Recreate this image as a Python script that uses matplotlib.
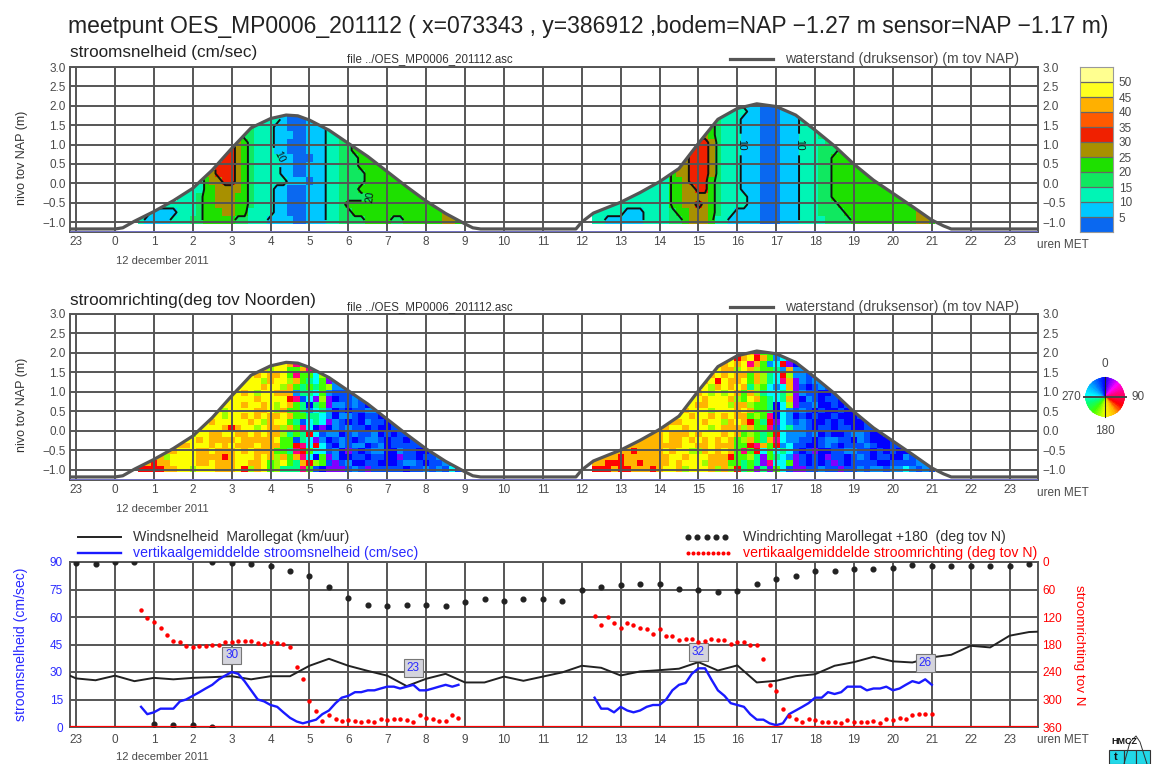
import numpy as np
import matplotlib
matplotlib.use('Agg')
import matplotlib.pyplot as plt
from matplotlib.colors import ListedColormap, BoundaryNorm, LinearSegmentedColormap
from matplotlib.lines import Line2D
from matplotlib.patches import Rectangle, Polygon

plt.rcParams['font.family'] = ['Liberation Sans', 'DejaVu Sans']

W, H = 1152, 764
GRID = '#555555'
TXT = '#4a4a4a'
BLUE = '#2a2aff'
RED = '#ff0000'

hours = list(range(-1, 24))
hour_labels = ['23'] + [str(h) for h in range(24)]
level_ticks = [-1.0, -0.5, 0.0, 0.5, 1.0, 1.5, 2.0, 2.5, 3.0]
level_labels = ['\u22121.0', '\u22120.5', '0.0', '0.5', '1.0', '1.5', '2.0', '2.5', '3.0']

# waterstand (m tov NAP)
water_t = [-1.16, 0, 0.2, 0.5, 1, 1.5, 2, 2.5, 3, 3.5, 4, 4.4, 4.7, 5, 5.5, 6, 6.5, 7, 7.5, 8, 8.5, 9, 9.2, 9.4,
           11.85, 12, 12.3, 13, 13.5, 14, 14.5, 15, 15.5, 16, 16.5, 17, 17.5, 18, 18.5, 19, 19.5, 20, 20.5, 21,
           21.3, 21.5, 23.73]
water_h = [-1.18, -1.18, -1.15, -0.98, -0.73, -0.45, -0.13, 0.34, 0.90, 1.43, 1.67, 1.76, 1.74, 1.63, 1.37, 1.03,
           0.69, 0.30, -0.09, -0.46, -0.78, -1.05, -1.15, -1.18,
           -1.18, -1.0, -0.77, -0.49, -0.24, 0.04, 0.38, 1.03, 1.65, 1.93, 2.05, 1.98, 1.76, 1.37, 0.96, 0.49,
           0.08, -0.26, -0.60, -0.95, -1.10, -1.18, -1.18]

# stroomsnelheid klassen (1 = 0-5 cm/sec, 2 = 5-10, ...), bovenste rij eerst, rijen van 0.2 m
speed_rows_1 = [
    '33333333333 44 444 44 4 333 32 111 222 33 44 55555555555555555',
    '33333333333 44 444 44 4 333 22 111 222 33 44 55555555555555555',
    '33333333333 55 666 64 4 333 22 211 222 33 45 55555555555555555',
    '33333333333 55 677 65 4 333 22 111 222 33 44 55555555555555555',
    '33333333333 55 777 65 4 333 22 111 222 33 44 55555555555555555',
    '33333333333 66 777 65 4 333 32 211 122 33 44 45555555555555555',
    '33333333333 66 777 65 4 333 32 211 222 33 44 45555555555555555',
    '33333333333 66 777 65 4 333 32 211 222 33 44 44555555555555555',
    '33333333333 56 677 65 4 333 33 222 122 33 44 44555555555555555',
    '33333333333 55 666 65 4 333 22 111 222 33 44 45555555555555555',
    '33333333334 55 666 55 4 333 22 111 222 33 44 44455555555555555',
    '33333333334 55 666 55 4 333 22 111 222 33 45 55555555555555555',
    '33322223334 55 566 55 3 333 22 111 222 33 44 55555555555555665',
    '33222233344 55 555 44 3 332 22 211 222 33 44 44555544555555665',
]
speed_rows_2 = [
    '3333333333333 444 555 5 4 333 222 111 222 333 444 555555555555555',
    '3333333333333 444 555 5 4 333 322 111 222 333 444 555555555555555',
    '3333333333333 444 555 5 4 333 222 111 222 333 444 555555555555555',
    '3333333333333 444 566 5 4 333 222 111 222 333 444 555555555555555',
    '3333333333333 455 666 5 4 333 222 111 222 333 444 555555555555555',
    '3333333333333 455 677 6 4 333 222 111 222 333 344 555555555555555',
    '3333333333333 556 777 6 4 333 222 111 222 333 444 555555555555555',
    '3333333333333 556 777 6 4 333 222 111 222 333 445 555555555555555',
    '3333333333333 566 777 6 4 333 222 111 222 333 445 555555555555555',
    '3333333333333 566 777 6 4 333 222 111 222 333 445 555555555555555',
    '3333333333333 556 777 5 4 333 222 111 222 333 445 555555555555555',
    '3333333333333 556 677 5 4 333 222 111 222 333 445 555555555555555',
    '3333333333333 556 666 5 4 333 322 111 222 333 445 555555555555555',
    '3333333333333 556 676 5 4 333 322 111 222 333 444 555555555555555',
    '3333332223333 455 666 5 4 332 222 111 222 333 444 455555555555665',
    '3332222223333 445 666 5 3 322 222 111 222 333 344 445555555555665',
]

# stroomrichting per cel als kleurcode, bovenste rij eerst, rijen van 0.15 m
dir_rows_1 = [
    'YYYYYYYYY YYYYYYYYY AYAAYY AMGGMA LLLBBBBBDBBBBBBBBBBBB',
    'YYYYYYYYY YYYYYYYYY YYAHYY GGAMMC PDBLBBBBBBBBBBBBBBBBB',
    'YYYYYYYYY YYYYYAYYY YAYAAY GMGGCH RDDLLBBBBBBBBBBBBBBBB',
    'YYYYYYYYY YYYAYAAYY YYHAYY HAGTCG PLLLLBBDBBBBBBBBBBBBB',
    'YYYYYYYYY YYYAAYYYY YYAYYH AGTGTG HLLBLLPBBDBBBBBBBBBBB',
    'YYYYYYYYY YYYAAAYYA YHYYAA ALTTCG LBBBPPPDBBBDBBBBBBBBB',
    'YYYYYYYYY YYYAAAYYY YAYYYY RMBCPH PDBBLBPBDBBBBDBBBBBBB',
    'YYYYYYYYY YYAYYYYYA YYAYHY AGTDTG PLLBLBDBBDDBBBBDBBBBB',
    'YYYYYYYYY YYYYYHYYY YAAYHA GGTLCT LDBDBBLLDDBBDBBBBBBBB',
    'YYYYYYYYY YAYYYHYYA YAYAAY AGGTTC LDLLBDBBDBDDDBBBBDBBB',
    'YYYYYYYYY YAYAYYYYY AYHAYY GTBCTC PLBDBDLBBDBBDDBBBBBBB',
    'YYYYYYYYY YYYYYARAY YHYAAH AGMCDP DLBLBBDBDDBBBDBBBBDBB',
    'YYYYYYYYY HYYAAYYAA YAYAAH TGTRCB LLDBLBBLDBDBBDDBBBBBB',
    'YYYYYYHHY YAYAAAAYA AAAAYG GBTCPL DBLBDBLLBDBBDBBBBBBBB',
    'YYYYYYYAA YYYAYAYAA AYAAAG GRMCRC BDLBLLDBLDBBBBBDBBBBB',
    'YYYYYAAYY YAAYAAAYA YAAAGG TMRGCC BLDPBDBLLDDLBBDDBBBBB',
    'YYYAAHYYY YAAAARAYY YAYAHA GAMCDG PLDDBBDBBDDPBBDBBLBBB',
    'AAARAAYYY YAAYAAAYY AAYGHY GTARHG BPBLDDBBDDDBLLBDBBLBB',
    'ARRRRAAYY HYYYAAAYR HAYGHT TTMGBD PPPBLBPBBBBBDBBLBLBCB',
]
dir_rows_2 = [
    'YYYYYYYYYY YYYYYYYYYY YYAYAA MGGCTD DLDPBBBBBBBBBBBBBBBBBB',
    'YYYYYYYYYY YYYYYYYYAY AAYRAY RAGLCL PDDBBBBBBBBBBBBBBBBBBB',
    'YYYYYYYYYY YYYYYYYAYY RAYAYM AGLCRP DLPBBBBBBBBBBBBBBBBBBB',
    'YYYYYYYYYY YYYYYYAAYY YAAHYA HGGTLA LLBBBBBBBBBBBBBBBBBBBB',
    'YYYYYYYYYY YYYYYAYYHA YAYAAG AHTCRH LLBPBBBBBBBBBBBBBBBBBB',
    'YYYYYYYYYY YYYYAYAYAY RYAAYG AHTCMA PLBLLPBBBBDBBBBBBBBBBB',
    'YYYYYYYYYY YYYYYYAYYH AYAYAT HGCLCA PBDBLBPBBBBBBBBBBBBBBB',
    'YYYYYYYYYY YYYYYYYAYH YHYAGA HTCCTH PLBBDDBBBBBBBBBBBBBBBB',
    'YYYYYYYYYY YYYYAYYYAY YYAHGY AGTCTA PDLBDBBDBBBBBBBBBBBBBB',
    'YYYYYYYYYY YYYYAYYAAY YYHAAH GGTDCH PBBLDDBDBPBBBBBBBBBBBB',
    'YYYYYYYYYY YYYAYAYYYH YYYAYA GGTDCL BLBDBDDBDDBBBBBBBBBBBB',
    'YYYYYYYYYY YYYAYYAYYA YAYAAG HGMDCL DBDBDDBDDDBBDBBBBBBBBB',
    'YYYYYYYYYY YYYAAYYYAY YHAYAR GTRPCL BLBDDBDBDDDBBBBBBBBBBB',
    'YYYYYYYYYY YAAYYAYYYH YAAAHA GGMBCT LLBDBBDBBDDBBDBBBBBBBB',
    'YYYYYYYYYY AAYAAAYAYY YAYAGH GTGRCL LLBLDBDDBLLBDDBBBBBBBB',
    'YYYYYYYYAA AAYAAYAYAY AYAGHA GTAMCL LBBDBLLBBDLBDDDBBBBBBB',
    'YYYYYAAAAA AAAAAYYAAY AAAGGR MAGRLC BBDDBLBDBBBLBDDBBDBBBB',
    'YYYAAAARAA AAYAYYHHAY AYAGMG RCGCTC BDBPDDBBLLBBDBDBDDDBBB',
    'YAAAARAAAA AAAYYAYYYA AARGGH TPGTCL PBDBDPBBDBLBDBBDDLBLBB',
    'AAARRRAARA AAAYAYYYHA AAGGTG TPMCCG PBDBDBPBDBBBBDDBBBBLLB',
    'ARRRARRAAA RAYYAHYYYA HAHRTG PTPGCB PPBBLBBPBBLBLLBLLCLBLB',
]
dir_codes = {'D': 0, 'P': 20, 'M': 75, 'R': 120, 'A': 150, 'Y': 180, 'H': 200, 'G': 220,
             'T': 255, 'C': 280, 'L': 320, 'B': 340}

# onderste paneel
wind_t = [-1.15, -1, -0.5, 0, 0.5, 1, 1.5, 2, 2.5, 3, 3.5, 4, 4.5, 5, 5.5, 6, 6.5, 7, 7.5, 8, 8.5, 9, 9.5, 10, 10.5,
          11, 11.5, 12, 12.5, 13, 13.5, 14, 14.5, 15, 15.5, 16, 16.5, 17, 17.5, 18, 18.5, 19, 19.5, 20, 20.5, 21,
          21.5, 22, 22.5, 23, 23.5, 23.73]
wind_speed = [27.9, 26.5, 25.5, 28, 25, 26.8, 26, 26.8, 27.2, 27.7, 26, 27.7, 27.7, 33.4, 37.2, 33.4, 30.6, 28, 22.3,
              26.3, 29, 24.3, 24.3, 27.5, 25.2, 27.5, 29.8, 33.4, 32.3, 28.1, 30.3, 31, 31.8, 35.4, 30.8, 33.6, 24.3,
              25.2, 27.7, 28.8, 33.4, 35.4, 38.3, 35.8, 35.2, 38, 39.4, 44.3, 43.4, 49.8, 51.8, 52]

wind_dir_t = [-1, -0.5, 0, 0.5, 1, 1.5, 2, 2.5, 2.5, 3, 3.5, 4, 4.5, 5, 5.5, 6, 6.5, 7, 7.5, 8, 8.5, 9, 9.5, 10, 10.5,
              11, 11.5, 12, 12.5, 13, 13.5, 14, 14.5, 15, 15.5, 16, 16.5, 17, 17.5, 18, 18.5, 19, 19.5, 20, 20.5, 21,
              21.5, 22, 22.5, 23, 23.5]
wind_dir = [1.5, 3.6, 1, 1, 354, 356, 356, 359, 0, 3, 5, 9, 19, 30, 55, 79, 93, 96, 93, 94, 95, 88, 81, 86, 81,
            81, 84, 61, 54, 50, 49, 47, 58, 62, 65, 63, 48, 36, 31, 19, 20, 15, 16, 12, 7, 9, 8, 9, 9, 9, 5]

mean_t_1 = [0.67, 0.83, 1, 1.17, 1.33, 1.5, 1.67, 1.83, 2, 2.17, 2.33, 2.5, 2.67, 2.83, 3, 3.17, 3.33, 3.5, 3.67, 3.83,
            4, 4.17, 4.33, 4.5, 4.67, 4.83, 5, 5.17, 5.33, 5.5, 5.67, 5.83, 6, 6.17, 6.33, 6.5, 6.67, 6.83, 7, 7.17,
            7.33, 7.5, 7.67, 7.83, 8, 8.17, 8.33, 8.5, 8.67, 8.83]
mean_speed_1 = [11, 7, 8, 10, 10, 10, 14, 15, 17, 19, 21, 23, 26, 28, 30, 29, 25, 20, 15, 14, 12, 11, 8, 5, 3, 2, 3, 4,
                7, 9, 13, 16, 17, 19, 19, 20, 20, 21, 22, 22, 21, 22, 23, 20, 20, 21, 22, 23, 22, 23]
mean_dir_1 = [105, 122, 131, 143, 160, 172, 174, 184, 185, 184, 184, 180, 180, 174, 174, 172, 172, 172, 177, 178, 174,
              176, 179, 186, 228, 255, 304, 326, 347, 334, 343, 347, 345, 347, 349, 346, 350, 343, 345, 343, 343, 345,
              348, 334, 340, 343, 347, 347, 334, 340]

mean_t_2 = [12.33, 12.5, 12.67, 12.83, 13, 13.17, 13.33, 13.5, 13.67, 13.83, 14, 14.17, 14.33, 14.5, 14.67, 14.83, 15,
            15.17, 15.33, 15.5, 15.67, 15.83, 16, 16.17, 16.33, 16.5, 16.67, 16.83, 17, 17.17, 17.33, 17.5, 17.67,
            17.83, 18, 18.17, 18.33, 18.5, 18.67, 18.83, 19, 19.17, 19.33, 19.5, 19.67, 19.83, 20, 20.17, 20.33, 20.5,
            20.67, 20.83, 21]
mean_speed_2 = [16, 10, 10, 8, 11, 9, 8, 9, 11, 12, 12, 15, 20, 23, 24, 29, 32, 32, 26, 20, 17, 13, 12, 11, 7, 4, 4, 2,
                1, 2, 7, 9, 11, 13, 16, 16, 19, 18, 19, 22, 22, 22, 20, 21, 21, 22, 20, 21, 23, 25, 24, 26, 23]
mean_dir_2 = [118, 138, 121, 134, 145, 134, 138, 143, 147, 158, 146, 161, 161, 170, 169, 168, 174, 172, 169, 170, 171,
              178, 174, 174, 180, 180, 211, 269, 281, 321, 337, 342, 348, 342, 345, 348, 348, 349, 351, 345, 349, 348,
              349, 346, 351, 342, 345, 340, 342, 333, 332, 332, 332]

box_t = [3, 7.67, 15, 20.83]
box_v = [39, 32, 41, 35]
box_labels = ['30', '23', '32', '26']

speed_colors = ['#0a68f0', '#00c8ff', '#00f5b5', '#10e860', '#1ee000', '#a89000', '#f02000', '#ff5a00', '#ffb000',
                '#ffff20', '#ffff90']
speed_bounds = [0, 5, 10, 15, 20, 25, 30, 35, 40, 45, 50, 55]
speed_cmap = ListedColormap(speed_colors)
speed_norm = BoundaryNorm(speed_bounds, 11)

dir_anchor = [(0, '#0000ff'), (20, '#8000ff'), (45, '#ff00ff'), (75, '#ff0080'), (120, '#ff0000'), (150, '#ffb400'),
              (180, '#ffff00'), (200, '#a0ff00'), (220, '#40ff00'), (255, '#00ff80'), (280, '#00ffff'),
              (320, '#0090ff'), (340, '#0050ff'), (360, '#0000ff')]
dir_cmap = LinearSegmentedColormap.from_list('richting', [(d / 360, c) for d, c in dir_anchor], N=360)


def px_axes(left, top, right, bottom, **kw):
    return fig.add_axes([left / W, 1 - bottom / H, (right - left) / W, (bottom - top) / H], **kw)


def px_text(x, y, s, **kw):
    kw.setdefault('va', 'center')
    kw.setdefault('color', TXT)
    kw.setdefault('fontsize', 8.5)
    fig.text(x / W, 1 - y / H, s, **kw)


def px_line(x, y, **kw):
    fig.add_artist(Line2D([v / W for v in x], [1 - v / H for v in y], transform=fig.transFigure, **kw))


def style_axes(ax):
    ax.set_xlim(-1.157, 23.73)
    ax.set_xticks(hours)
    ax.set_xticklabels(hour_labels, fontsize=8.5, color=TXT)
    ax.tick_params(length=0, pad=5)
    ax.grid(True, color=GRID, lw=1.4, zorder=3)
    ax.set_axisbelow(False)
    for s in ax.spines.values():
        s.set_color(GRID)
        s.set_linewidth(1.4)


def tide_grid(rows, t0, h0, dh, to_value):
    rows = [r.replace(' ', '') for r in rows][::-1]
    n = max(len(r) for r in rows)
    z = np.array([[to_value(c) for c in r.ljust(n, r[-1])] for r in rows], float)
    tc = t0 + np.arange(n) / 6
    hc = h0 + dh * np.arange(len(rows))
    first = 12.3 if t0 > 12 else 0.6
    wet = np.array([[h - dh / 2 <= np.interp(t, water_t, water_h) and t > first for t in tc] for h in hc])
    te = np.append(tc - 1 / 12, tc[-1] + 1 / 12)
    he = np.append(hc - dh / 2, hc[-1] + dh / 2)
    return tc, hc, te, he, np.ma.masked_where(~wet, z)


def level_panel(top, bottom, title, title_y, legend_y):
    ax = px_axes(70, top, 1038, bottom)
    style_axes(ax)
    ax.set_ylim(-1.258, 3.0)
    ax.set_yticks(level_ticks)
    ax.set_yticklabels(level_labels, fontsize=8.5, color=TXT)
    ax.tick_params(labelright=True, right=False, length=0, pad=3)
    px_text(22, top + 91, 'nivo tov NAP (m)', fontsize=9, color='#333333', rotation=90, ha='center')
    ax.axhline(-1.25, color='#7a7ae6', lw=1.8, zorder=4)
    ax.plot(water_t, water_h, color=GRID, lw=2.3, zorder=5, solid_joinstyle='round')
    px_text(70, title_y, title, fontsize=12.3, color='#222222')
    px_text(347, legend_y, 'file ../OES_MP0006_201112.asc', fontsize=8.3, color='#333333')
    px_line([730, 773], [legend_y, legend_y], color=GRID, lw=2.3)
    px_text(785, legend_y, 'waterstand (druksensor) (m tov NAP)', fontsize=10.2, color=TXT)
    px_text(1037, bottom + 13, 'uren MET')
    px_text(116, bottom + 29, '12 december 2011', fontsize=8)
    return ax


def water_clip(ax):
    return Polygon(list(zip(water_t, water_h)) + [(23.73, -1.3), (-1.16, -1.3)], closed=True, transform=ax.transData)


fig = plt.figure(figsize=(W / 100, H / 100), dpi=100)
px_text(68, 27, 'meetpunt OES_MP0006_201112 ( x=073343 , y=386912 ,bodem=NAP \u22121.27 m sensor=NAP \u22121.17 m)',
        fontsize=16.5, color='#222222')

# paneel 1, stroomsnelheid
ax1 = level_panel(67, 232, 'stroomsnelheid (cm/sec)', 53, 59)
speed_value = lambda c: 5 * int(c) - 2.5
for rows, t0, spots in [(speed_rows_1, 0.5, [(4.3, 0.75), (6.8, -0.55)]),
                        (speed_rows_2, 12.17, [(16.2, 1.0), (17.5, 1.0)])]:
    tc, hc, te, he, z = tide_grid(rows, t0, -0.95, 0.2, speed_value)
    mesh = ax1.pcolormesh(te, he, z, cmap=speed_cmap, norm=speed_norm, zorder=1)
    mesh.set_clip_path(water_clip(ax1))
    cs = ax1.contour(tc, hc, z, levels=[10, 20, 30], colors='#111111', linewidths=1.4, zorder=2)
    ax1.clabel(cs, manual=spots, fmt='%d', fontsize=7.5)
    cs.set_clip_path(water_clip(ax1))

# kleurenbalk
cax = px_axes(1080, 67, 1113, 232)
cax.pcolormesh([0, 1], speed_bounds, np.array(speed_bounds[:-1]).reshape(-1, 1) + 2.5, cmap=speed_cmap, norm=speed_norm)
cax.set_xticks([])
cax.set_ylim(0, 55)
cax.set_yticks(speed_bounds[1:-1])
cax.yaxis.tick_right()
cax.tick_params(length=0, labelsize=8.5, labelcolor=TXT, pad=4)
cax.grid(True, axis='y', color='#666666', lw=0.9)
for s in cax.spines.values():
    s.set_color('#999999')

# paneel 2, stroomrichting
ax2 = level_panel(314, 480, 'stroomrichting(deg tov Noorden)', 300, 307)
dir_value = lambda c: dir_codes[c]
for rows, t0 in [(dir_rows_1, 0.5), (dir_rows_2, 12.17)]:
    tc, hc, te, he, z = tide_grid(rows, t0, -0.975, 0.15, dir_value)
    mesh = ax2.pcolormesh(te, he, z, cmap=dir_cmap, vmin=0, vmax=360, zorder=1)
    mesh.set_clip_path(water_clip(ax2))

# kleurenwiel
wheel = px_axes(1084, 377, 1126, 417, projection='polar')
wheel.set_theta_zero_location('N')
wheel.set_theta_direction(-1)
wheel_deg = np.arange(0, 361, 3)
wheel_r = np.array([0, 1])
wheel.pcolormesh(np.radians(wheel_deg), wheel_r, (wheel_deg[:-1] + 1.5).reshape(1, -1), cmap=dir_cmap, vmin=0, vmax=360)
wheel.set_xticks([])
wheel.set_yticks([])
wheel.spines['polar'].set_visible(False)
px_line([1084, 1126], [397, 397], color='#444444', lw=1.4)
px_line([1105, 1105], [377, 417], color='#222222', lw=0.8)
px_text(1105, 364, '0', ha='center')
px_text(1105, 431, '180', ha='center')
px_text(1071, 397, '270', ha='center')
px_text(1138, 397, '90', ha='center')

# paneel 3, gemiddelden en wind
ax3 = px_axes(70, 562, 1038, 727)
style_axes(ax3)
ax3.set_ylim(0, 90)
ax3.set_yticks([0, 15, 30, 45, 60, 75, 90])
ax3.tick_params(axis='y', labelcolor=BLUE, labelsize=8.5, pad=5)
px_text(21, 644, 'stroomsnelheid (cm/sec)', fontsize=10.1, color=BLUE, rotation=90, ha='center')
ax3.plot(wind_t, wind_speed, color='#222222', lw=1.4, zorder=5)
ax3.plot(mean_t_1, mean_speed_1, color='#1a1aff', lw=1.7, zorder=6)
ax3.plot(mean_t_2, mean_speed_2, color='#1a1aff', lw=1.7, zorder=6)
for t, v, s in zip(box_t, box_v, box_labels):
    ax3.text(t, v, s, color=BLUE, fontsize=8.5, ha='center', va='center', zorder=8,
             bbox=dict(boxstyle='square,pad=0.25', fc='#d4d4dc', ec='#777777', lw=0.8))
ax4 = ax3.twinx()
ax4.set_ylim(360, 0)
ax4.set_yticks([0, 60, 120, 180, 240, 300, 360])
ax4.tick_params(length=0, labelcolor=RED, labelsize=8.5, pad=3)
px_text(1079, 645, 'stroomrichting tov N', fontsize=9.7, color=RED, rotation=270, ha='center')
for s in ax4.spines.values():
    s.set_visible(False)
ax4.plot(wind_dir_t, wind_dir, 'o', color='#222222', ms=3.4, zorder=7, clip_on=True)
ax4.plot(mean_t_1, mean_dir_1, 'o', color=RED, ms=2.2, zorder=7)
ax4.plot(mean_t_2, mean_dir_2, 'o', color=RED, ms=2.2, zorder=7)
ax4.axhline(360, color=RED, lw=1.6, zorder=8)
px_text(1037, 740, 'uren MET')
px_text(116, 757, '12 december 2011', fontsize=8)

# legenda onderste paneel
px_line([78, 121], [537, 537], color='#222222', lw=1.4)
px_text(133, 537, 'Windsnelheid  Marollegat (km/uur)', fontsize=10.2, color='#333333')
px_line([78, 121], [553, 553], color='#1a1aff', lw=1.7)
px_text(133, 553, 'vertikaalgemiddelde stroomsnelheid (cm/sec)', fontsize=10.2, color=BLUE)
px_line(np.linspace(688, 725, 5), [537] * 5, color='#222222', ls='none', marker='o', ms=3.4)
px_text(743, 537, 'Windrichting Marollegat +180  (deg tov N)', fontsize=10.2, color='#333333')
px_line(np.linspace(688, 728, 9), [553] * 9, color=RED, ls='none', marker='o', ms=1.9)
px_text(743, 553, 'vertikaalgemiddelde stroomrichting (deg tov N)', fontsize=10.2, color=RED)

# logo
px_text(1111, 742, 'HMCZ', fontsize=6.5, color='#111111', fontweight='bold')
for x0, x1 in [(1109, 1124), (1124, 1136), (1136, 1150)]:
    fig.add_artist(Rectangle((x0 / W, 0), (x1 - x0) / W, 14 / H, transform=fig.transFigure, fc='#22d8e8',
                             ec='#333333', lw=0.8))
px_text(1116, 757, 't', fontsize=8, color='#111111', fontweight='bold', ha='center')
px_line([1124, 1130, 1136, 1140, 1147], [764, 742, 736, 742, 764], color='#333333', lw=0.7)

fig.savefig('out.png', dpi=100)
